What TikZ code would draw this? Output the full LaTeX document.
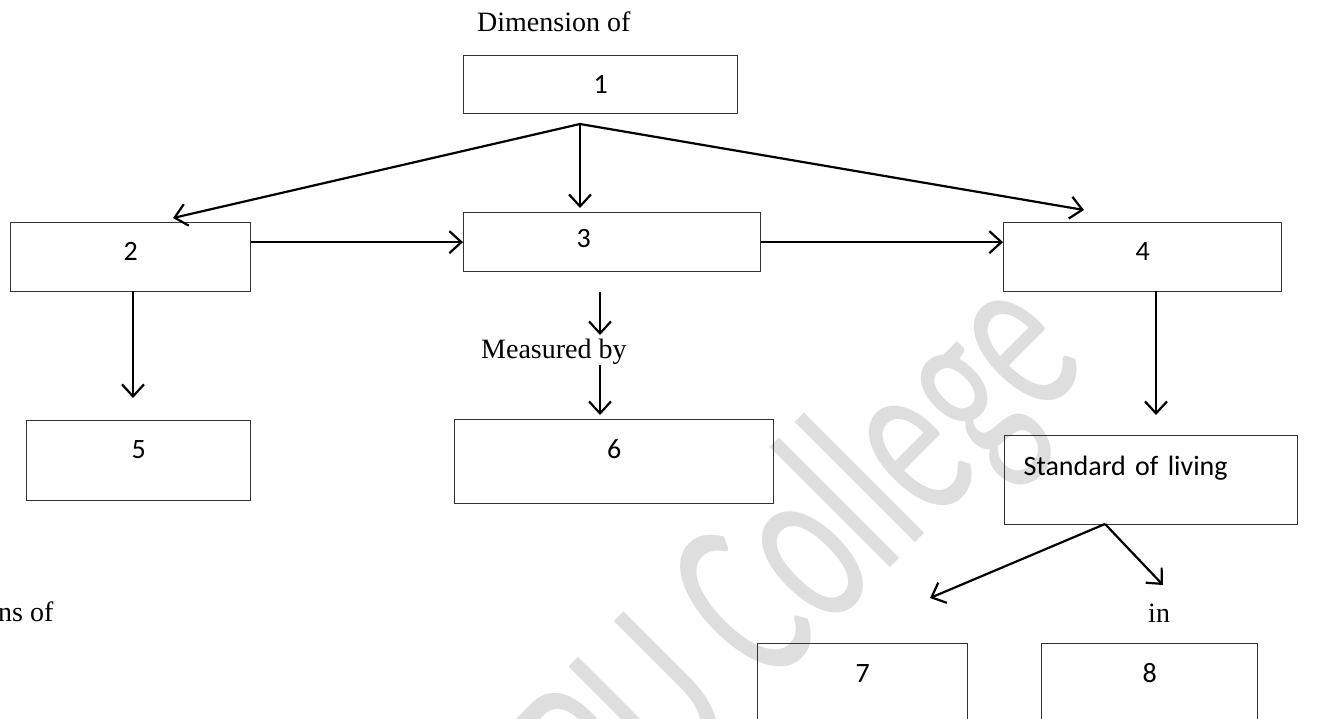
\documentclass[tikz,border=0pt]{standalone}
\usepackage{fontspec}
\setmainfont{Liberation Serif}
\newfontfamily\calib{Carlito}
\newfontfamily\wmfont[FakeStretch=0.63]{Carlito}
\usetikzlibrary{arrows.meta,calc}
\begin{document}
\begin{tikzpicture}[x=1pt,y=-1pt,
  box/.style={draw=black!80, line width=1.3pt, inner sep=0pt, anchor=north west,
    font=\calib\fontsize{28}{32}\selectfont},
  lbl/.style={inner sep=0pt, anchor=base west, font=\fontsize{28}{32}\selectfont},
  arr/.style={line width=2.2pt, -{Straight Barb[length=12pt,width=22pt,line width=2.2pt]}},
  wmark/.style={rotate=45, anchor=base east, text=black!13, inner sep=0pt,
    font=\wmfont\fontsize{245}{260}\selectfont}
  ]
\useasboundingbox (0,0) rectangle (1321,719);
\clip (0,0) rectangle (1321,719);
% watermark
\node[wmark] (wm) at (1092,366) {PU College};
% texts
\node[lbl] (dim) at (477,32) {Dimension of};
\node[lbl] (mb) at (481,358) {Measured by};
\node[lbl] (nsof) at (-2,621) {ns of};
\node[lbl] (in) at (1148,622) {in};
% boxes
\node[box, minimum width=274pt, text height=38pt, text depth=20pt] (b1) at (463,55) {1};
\node[box, minimum width=240pt, text height=38pt, text depth=31pt] (b2) at (10,222) {2};
\node[box, text width=297pt, align=left, text height=35pt, text depth=24pt] (b3) at (463,212) {\hspace*{113pt}3};
\node[box, minimum width=278pt, text height=38pt, text depth=31pt] (b4) at (1003,222) {4};
\node[box, minimum width=224pt, text height=38pt, text depth=42pt] (b5) at (26,420) {5};
\node[box, minimum width=319pt, text height=39pt, text depth=45pt] (b6) at (454,419) {6};
\node[box, text width=293pt, align=left, text height=40pt, text depth=49pt] (sol) at (1004,435) {\hspace*{19pt}Standard of living};
\node[box, minimum width=210pt, text height=39pt, text depth=90pt] (b7) at (757,643) {7};
\node[box, minimum width=216pt, text height=39pt, text depth=90pt] (b8) at (1041,643) {8};
% connector points
\coordinate (split) at (580,124);
\coordinate (t2) at (173,218);
\coordinate (t3) at (580,208);
\coordinate (t4) at (1084,210);
\coordinate (s25) at (133,291);
\coordinate (t25) at (133,398);
\coordinate (s3m) at (600,292);
\coordinate (t3m) at (600,335);
\coordinate (sm6) at (600,365);
\coordinate (tm6) at (600,415);
\coordinate (s4s) at (1156,291);
\coordinate (t4s) at (1156,415);
\coordinate (ssol) at (1105,524);
\coordinate (t7) at (930,598);
\coordinate (tin) at (1163,585);
% connectors
\draw[arr] (split) -- (t2);
\draw[arr] (split) -- (t3);
\draw[arr] (split) -- (t4);
\draw[arr] (b2.east |- b3.west) -- (b3.west);
\draw[arr] (b3.east) -- (b3.east -| b4.west);
\draw[arr] (s25) -- (t25);
\draw[arr] (s3m) -- (t3m);
\draw[arr] (sm6) -- (tm6);
\draw[arr] (s4s) -- (t4s);
\draw[arr] (ssol) -- (t7);
\draw[arr] (ssol) -- (tin);
\end{tikzpicture}
\end{document}
